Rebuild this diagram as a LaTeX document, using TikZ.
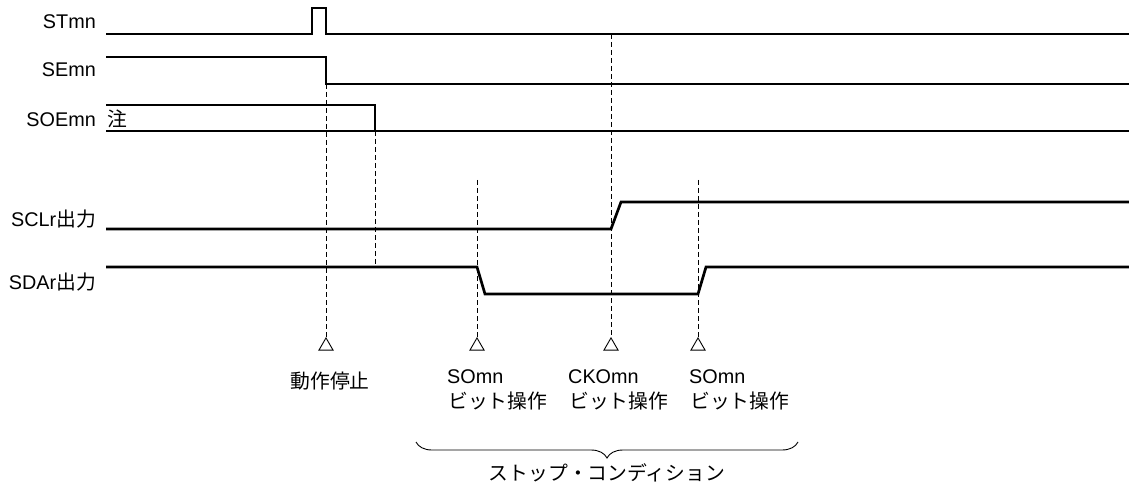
\documentclass[tikz,border=0pt]{standalone}
\usepackage{fontspec}
\setmainfont{Liberation Sans}
\newfontfamily\jp{Noto Sans CJK JP}
\usetikzlibrary{decorations.pathreplacing,shapes.geometric}
\begin{document}
\begin{tikzpicture}[x=1pt,y=-1pt,
  sig/.style={line width=2.7pt,line cap=butt,line join=miter},
  guide/.style={line width=0.9pt,dash pattern=on 5pt off 3pt},
  lbl/.style={font=\fontsize{19.8}{24}\selectfont,inner sep=0pt},
  tri/.style={draw,line width=0.9pt,regular polygon,regular polygon sides=3,minimum size=16.2pt,inner sep=0pt},
  bracestyle/.style={line width=0.9pt,decorate,decoration={brace,mirror,amplitude=16pt}}]
\useasboundingbox (0,0) rectangle (1129,486);
% labels
\node[lbl,anchor=base east] (lST) at (96,29) {STmn};
\node[lbl,anchor=base east] (lSE) at (96,77) {SEmn};
\node[lbl,anchor=base east] (lSOE) at (96,127) {SOEmn};
\node[lbl,anchor=base west] (lnote) at (107,127) {\jp 注};
\node[lbl,anchor=base east] (lSCL) at (96,227) {SCLr{\jp 出力}};
\node[lbl,anchor=base east] (lSDA) at (96,290) {SDAr{\jp 出力}};
% key coordinates
\coordinate (st0) at (106,34);
\coordinate (stA) at (312,34);
\coordinate (stB) at (326,34);
\coordinate (st1) at (1129,34);
\coordinate (stck) at (611,34);
\coordinate (se0) at (106,57);
\coordinate (seA) at (326,57);
\coordinate (seB) at (326,84);
\coordinate (se1) at (1129,84);
\coordinate (soe0) at (106,105);
\coordinate (soeA) at (375,105);
\coordinate (soeB) at (375,131);
\coordinate (soeL) at (106,131);
\coordinate (soe1) at (1129,131);
\coordinate (scl0) at (106,229);
\coordinate (sclA) at (611,229);
\coordinate (sclB) at (621,202);
\coordinate (scl1) at (1129,202);
\coordinate (sda0) at (106,267);
\coordinate (sdaA) at (477,267);
\coordinate (sdaB) at (485,294);
\coordinate (sdaC) at (698,294);
\coordinate (sdaD) at (706,267);
\coordinate (sda1) at (1129,267);
\coordinate (sdaS) at (375,267);
\coordinate (g2top) at (477,180);
\coordinate (g4top) at (698,180);
% waveforms
\draw[sig] (st0) -- (stA) -- ++(0,-26) -| (stB) -- (st1);
\draw[sig] (se0) -- (seA) -- (seB) -- (se1);
\draw[sig] (soe0) -- (soeA) -- (soeB);
\draw[sig] (soeL) -- (soe1);
\draw[sig] (scl0) -- (sclA) -- (sclB) -- (scl1);
\draw[sig] (sda0) -- (sdaA) -- (sdaB) -- (sdaC) -- (sdaD) -- (sda1);
% triangles
\node[tri] (t1) at (326,346) {};
\node[tri] (t2) at (477,346) {};
\node[tri] (t3) at (611,346) {};
\node[tri] (t4) at (698,346) {};
% guides
\draw[guide] (seB) -- (t1.corner 1);
\draw[guide] (soeB) -- (sdaS);
\draw[guide] (g2top) -- (t2.corner 1);
\draw[guide] (stck) -- (t3.corner 1);
\draw[guide] (g4top) -- (t4.corner 1);
% bottom texts
\node[lbl,anchor=base] (stop) at (330,388) {\jp 動作停止};
\node[lbl,anchor=base west] (so1a) at (447,383) {SOmn};
\node[lbl,anchor=base west] (so1b) at (448,408) {\jp ビット操作};
\node[lbl,anchor=base west] (ck1a) at (568,383) {CKOmn};
\node[lbl,anchor=base west] (ck1b) at (569,408) {\jp ビット操作};
\node[lbl,anchor=base west] (so2a) at (689,383) {SOmn};
\node[lbl,anchor=base west] (so2b) at (690,408) {\jp ビット操作};
% brace
\coordinate (br1) at (416,442);
\coordinate (br2) at (798,442);
\draw[bracestyle] (br1) -- (br2);
\node[lbl,anchor=base] (cond) at (607,480) {\jp ストップ・コンディション};
\end{tikzpicture}
\end{document}
